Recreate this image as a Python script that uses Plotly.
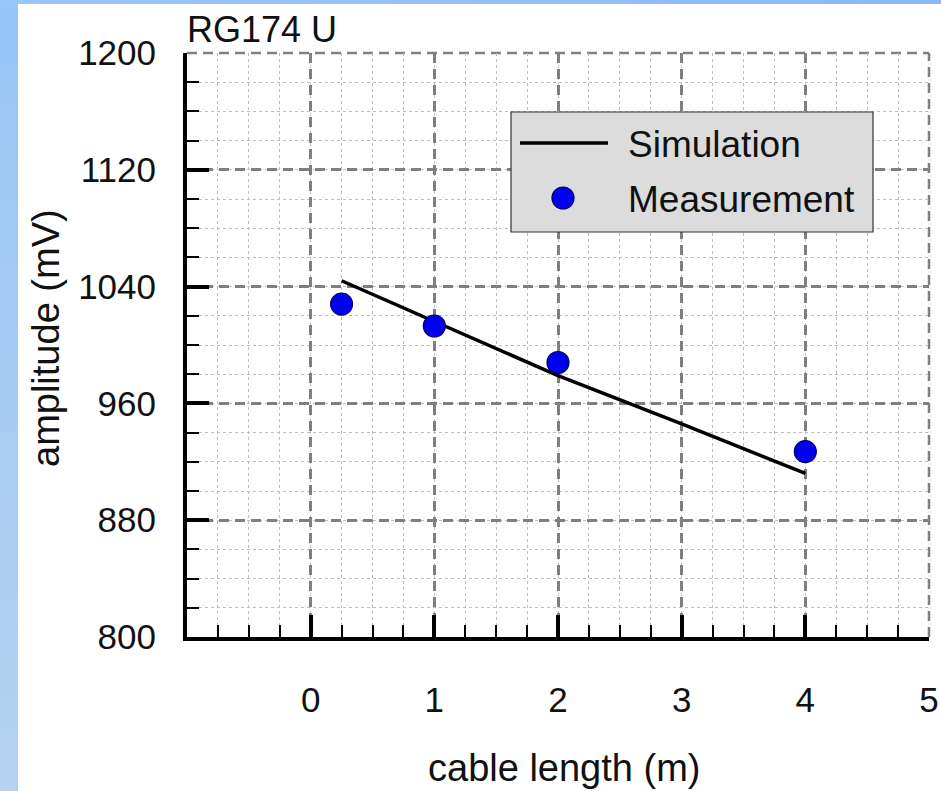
import plotly.graph_objects as go

# Cable RG174 U: pulse amplitude versus cable length
sim_length = [0.25, 1, 2, 3, 4]
sim_amplitude = [1044, 1016, 979, 946, 912]

meas_length = [0.25, 1, 2, 4]
meas_amplitude = [1028, 1013, 988, 927]

x_ticks = [0, 1, 2, 3, 4, 5]
y_ticks = [800, 880, 960, 1040, 1120, 1200]

FONT = "Liberation Sans, Arial, sans-serif"
W, H = 941, 791
ML, MR, MT, MB = 187, 12, 53, 154
PW, PH = W - ML - MR, H - MT - MB
GRID = "#7f7f7f"


def px(x):
    return (x - ML) / PW


def py(y):
    return (H - MB - y) / PH


fig = go.Figure()

fig.add_trace(go.Scatter(
    x=sim_length, y=sim_amplitude, mode="lines", name="Simulation",
    line=dict(color="black", width=3.5), showlegend=False,
))
fig.add_trace(go.Scatter(
    x=meas_length, y=meas_amplitude, mode="markers", name="Measurement",
    marker=dict(size=22, color="#0000f0", line=dict(color="#000070", width=1.2)),
    showlegend=False,
))

shapes = []

# light-blue frame around the white page
def mix(c1, c2, t):
    return "rgb({},{},{})".format(*[round(a + (b - a) * t) for a, b in zip(c1, c2)])

n = 24
for i in range(n):
    t = i / (n - 1)
    y0 = py(i * H / n)
    y1 = py((i + 1) * H / n)
    shapes.append(dict(type="rect", xref="paper", yref="paper", x0=px(0), x1=px(18),
                       y0=y1, y1=y0, fillcolor=mix((152, 198, 248), (181, 209, 238), t),
                       line=dict(width=0), layer="below"))
for i in range(n):
    t = i / (n - 1)
    shapes.append(dict(type="rect", xref="paper", yref="paper",
                       x0=px(i * W / n), x1=px((i + 1) * W / n), y0=py(4), y1=py(0),
                       fillcolor=mix((152, 200, 248), (136, 187, 245), t),
                       line=dict(width=0), layer="below"))
shapes.append(dict(type="rect", xref="paper", yref="paper", x0=px(18), x1=px(W + 5),
                   y0=py(H + 5), y1=py(4), fillcolor="white", line=dict(width=0),
                   layer="below"))

# dashed grid along the top and right edges of the plot area
shapes.append(dict(type="line", xref="paper", yref="paper", x0=0, x1=1, y0=1, y1=1,
                   line=dict(color=GRID, width=2.5, dash="10px,6px"), layer="below"))
shapes.append(dict(type="line", xref="paper", yref="paper", x0=1, x1=1, y0=0, y1=1,
                   line=dict(color=GRID, width=2.5, dash="10px,6px"), layer="below"))

# legend box
shapes.append(dict(type="rect", xref="paper", yref="paper", x0=px(511), x1=px(873),
                   y0=py(232), y1=py(112), fillcolor="#dcdcdc",
                   line=dict(color="#333333", width=1.2)))
shapes.append(dict(type="line", xref="paper", yref="paper", x0=px(520), x1=px(608),
                   y0=py(143), y1=py(143), line=dict(color="black", width=3.5)))
shapes.append(dict(type="circle", xref="paper", yref="paper", xsizemode="pixel",
                   ysizemode="pixel", xanchor=px(563), yanchor=py(198),
                   x0=-11, x1=11, y0=-11, y1=11, fillcolor="#0000f0",
                   line=dict(color="#000070", width=1.2)))

annotations = [
    dict(text="Simulation", xref="paper", yref="paper", x=px(626), y=py(145),
         xanchor="left", yanchor="middle", showarrow=False,
         font=dict(size=37, color="#111111", family=FONT)),
    dict(text="Measurement", xref="paper", yref="paper", x=px(626), y=py(200),
         xanchor="left", yanchor="middle", showarrow=False,
         font=dict(size=37, color="#111111", family=FONT)),
    dict(text="RG174 U", xref="paper", yref="paper", x=px(185), y=py(29),
         xanchor="left", yanchor="middle", showarrow=False,
         font=dict(size=36, color="#111111", family=FONT)),
    dict(text="cable length (m)", xref="paper", yref="paper", x=px(564), y=py(768),
         xanchor="center", yanchor="middle", showarrow=False,
         font=dict(size=38, color="#111111", family=FONT)),
    dict(text="amplitude (mV)", xref="paper", yref="paper", x=px(46), y=py(338),
         xanchor="center", yanchor="middle", showarrow=False, textangle=-90,
         font=dict(size=38, color="#111111", family=FONT)),
]

axis_common = dict(
    showline=True, linecolor="black", linewidth=4,
    ticks="inside", ticklen=22, tickwidth=3.5, tickcolor="black",
    showgrid=True, gridcolor=GRID, gridwidth=2.5, griddash="10px,6px",
    zeroline=False, tickfont=dict(size=35, color="#111111", family=FONT),
)

fig.update_xaxes(
    range=[-1, 5], tickmode="array", tickvals=x_ticks,
    ticktext=[str(v) for v in x_ticks], ticklabelstandoff=29,
    minor=dict(tickmode="linear", tick0=-1, dtick=0.25, ticks="inside", ticklen=12,
               tickwidth=2, tickcolor="black", showgrid=True, gridcolor="#bdbdbd",
               gridwidth=1, griddash="dot"),
    **axis_common,
)
fig.update_yaxes(
    range=[800, 1200], tickmode="array", tickvals=y_ticks,
    ticktext=[str(v) for v in y_ticks], ticklabelstandoff=20,
    minor=dict(tickmode="linear", tick0=800, dtick=20, ticks="inside", ticklen=12,
               tickwidth=2, tickcolor="black", showgrid=True, gridcolor="#bdbdbd",
               gridwidth=1, griddash="dot"),
    **axis_common,
)

fig.update_layout(
    width=W, height=H,
    margin=dict(l=ML, r=MR, t=MT, b=MB, autoexpand=False),
    paper_bgcolor="#a0c8f2", plot_bgcolor="white",
    shapes=shapes, annotations=annotations, showlegend=False,
)

fig.write_html("out.html")
